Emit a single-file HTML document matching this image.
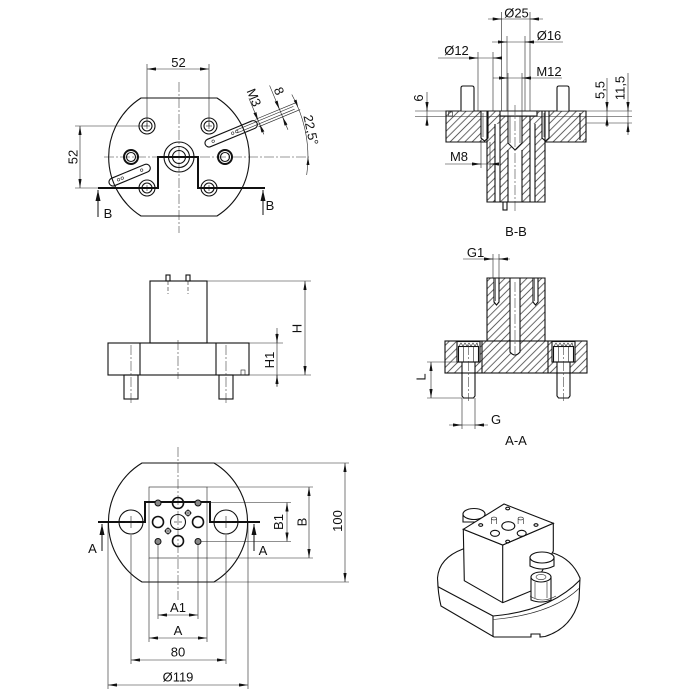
<!DOCTYPE html>
<html><head><meta charset="utf-8">
<style>
html,body{margin:0;padding:0;background:#fff}
svg{display:block}
text{font-family:"Liberation Sans","DejaVu Sans",sans-serif;font-size:13px;fill:#111}
.o{fill:none;stroke:#111;stroke-width:1.1}
.t{fill:none;stroke:#222;stroke-width:0.6}
.c{fill:none;stroke:#333;stroke-width:0.55;stroke-dasharray:10 2 2 2}
.k{fill:none;stroke:#111;stroke-width:2}
.w{fill:#fff;stroke:none}
.ow{fill:#fff;stroke:#111;stroke-width:1.1}
</style></head><body>
<svg width="700" height="700" viewBox="0 0 700 700" xmlns="http://www.w3.org/2000/svg">
<defs>
<marker id="ar" viewBox="0 0 9 3.2" refX="9" refY="1.6" markerWidth="9" markerHeight="3.2" orient="auto-start-reverse" markerUnits="userSpaceOnUse"><path d="M0,0 L9,1.6 L0,3.2 Z" fill="#111"/></marker>
<marker id="ab" viewBox="0 0 11 5" refX="11" refY="2.5" markerWidth="11" markerHeight="5" orient="auto" markerUnits="userSpaceOnUse"><path d="M0,0 L11,2.5 L0,5 Z" fill="#111"/></marker>
<pattern id="h" width="5.2" height="5.2" patternUnits="userSpaceOnUse" patternTransform="rotate(45)"><line x1="2.6" y1="-1" x2="2.6" y2="6.2" stroke="#333" stroke-width="0.75"/></pattern>
</defs>

<!-- ============ VIEW 1 : top plan ============ -->
<path class="o" d="M141,98 H217 A70,70 0 0 1 217,216 H141 A70,70 0 0 1 141,98 Z"/>
<line class="c" x1="179" y1="82" x2="179" y2="233"/>
<line class="c" x1="104" y1="157" x2="309" y2="157"/>
<line class="t" x1="147" y1="64" x2="147" y2="126"/>
<line class="t" x1="209" y1="64" x2="209" y2="126"/>
<line class="t" x1="75" y1="126" x2="147" y2="126"/>
<line class="t" x1="75" y1="188" x2="98" y2="188"/>
<line class="t" x1="147" y1="69" x2="209" y2="69" marker-start="url(#ar)" marker-end="url(#ar)"/>
<text x="178.5" y="67" text-anchor="middle">52</text>
<line class="t" x1="80" y1="126" x2="80" y2="188" marker-start="url(#ar)" marker-end="url(#ar)"/>
<text transform="translate(77.5,157) rotate(-90)" text-anchor="middle">52</text>
<g class="o">
<circle cx="147" cy="126" r="8"/><circle cx="147" cy="126" r="5"/>
<circle cx="209" cy="126" r="8"/><circle cx="209" cy="126" r="5"/>
<circle cx="147" cy="188" r="8"/><circle cx="147" cy="188" r="5"/>
<circle cx="209" cy="188" r="8"/><circle cx="209" cy="188" r="5"/>
<circle cx="179" cy="157" r="15"/><circle cx="179" cy="157" r="10.5"/><circle cx="179" cy="157" r="6.5"/>
<circle cx="131" cy="157" r="4.5"/><circle cx="225" cy="157" r="4.5"/>
</g>
<circle cx="131" cy="157" r="7" fill="none" stroke="#111" stroke-width="2"/>
<circle cx="225" cy="157" r="7" fill="none" stroke="#111" stroke-width="2"/>
<g class="t">
<line x1="144" y1="126" x2="150" y2="126"/><line x1="147" y1="123" x2="147" y2="129"/>
<line x1="206" y1="126" x2="212" y2="126"/><line x1="209" y1="123" x2="209" y2="129"/>
<line x1="144" y1="188" x2="150" y2="188"/><line x1="147" y1="185" x2="147" y2="191"/>
<line x1="206" y1="188" x2="212" y2="188"/><line x1="209" y1="185" x2="209" y2="191"/>
</g>
<path class="k" d="M98,188 H158 V157 H198 V188 H265"/>
<line x1="98" y1="217" x2="98" y2="190" stroke="#111" stroke-width="1" marker-end="url(#ab)"/>
<line x1="263" y1="215" x2="263" y2="190" stroke="#111" stroke-width="1" marker-end="url(#ab)"/>
<text x="108" y="218" text-anchor="middle" font-size="13.5">B</text>
<text x="270" y="210" text-anchor="middle" font-size="13.5">B</text>
<!-- slot lower-left -->
<g transform="translate(113,182) rotate(-22.5)">
<rect class="o" x="-4" y="-4" width="44" height="8" rx="4"/>
<circle class="t" cx="6" cy="0" r="1.3"/><circle class="t" cx="10" cy="0" r="1.3"/><circle class="t" cx="31" cy="0" r="1.3"/>
</g>
<!-- slot upper-right -->
<g transform="translate(209,143) rotate(-22.5)">
<rect class="o" x="-4" y="-4" width="56" height="8" rx="4"/>
<circle class="t" cx="4.5" cy="0" r="1.3"/><circle class="t" cx="25.6" cy="0" r="1.3"/><circle class="t" cx="30" cy="0" r="1.3"/>
<line class="t" x1="30" y1="-1.5" x2="92" y2="-1.5"/>
<line class="t" x1="30" y1="1.5" x2="92" y2="1.5"/>
<line class="t" x1="52" y1="-4" x2="97" y2="-4"/>
<line class="t" x1="52" y1="4" x2="97" y2="4"/>
<line class="t" x1="54" y1="-26" x2="54" y2="13"/>
<line class="t" x1="54" y1="-10" x2="54" y2="-1.5" marker-end="url(#ar)"/>
<line class="t" x1="54" y1="10" x2="54" y2="1.5" marker-end="url(#ar)"/>
<line class="t" x1="78" y1="-30" x2="78" y2="18"/>
<line class="t" x1="78" y1="-13" x2="78" y2="-4" marker-end="url(#ar)"/>
<line class="t" x1="78" y1="13" x2="78" y2="4" marker-end="url(#ar)"/>
</g>
<text transform="translate(254,97.5) rotate(67.5)" text-anchor="middle" dominant-baseline="central">M3</text>
<text transform="translate(279,91) rotate(67.5)" text-anchor="middle" dominant-baseline="central">8</text>
<text transform="translate(311,130) rotate(78)" text-anchor="middle" dominant-baseline="central">22,5°</text>
<path class="t" d="M306.7,175 A129,129 0 0 0 291.8,94.5"/>
<polygon points="308,157 306.5,165 309.5,165" fill="#111"/>
<polygon points="298.2,107.6 296.5,99.6 293.7,100.8" fill="#111"/>

<!-- ============ VIEW 2 : B-B ============ -->
<rect x="446" y="111" width="140" height="31" fill="url(#h)"/>
<rect x="487" y="142" width="58" height="60" fill="url(#h)"/>
<g class="w">
<rect x="500" y="111" width="37" height="5"/>
<rect x="508" y="116" width="14" height="27"/>
<path d="M508,143 L515,150 L522,143Z"/>
<rect x="508" y="150" width="14" height="52"/>
<rect x="495" y="124" width="5" height="78"/>
<rect x="530" y="124" width="5" height="78"/>
<rect x="481" y="111" width="7" height="27"/>
<path d="M481,138 L484.5,141 L488,138Z"/>
<rect x="542" y="111" width="7" height="27"/>
<path d="M542,138 L545.5,141 L549,138Z"/>
</g>
<path class="o" d="M446,111 H586 V142 H545 V202 H487 V142 H446 Z"/>
<line class="o" x1="487" y1="111" x2="487" y2="142"/>
<line class="o" x1="545" y1="111" x2="545" y2="142"/>
<path class="o" d="M500,111 V116 H537 V111"/>
<path class="o" d="M508,116 V143 L515,150 L522,143 V116"/>
<line class="t" x1="510" y1="116" x2="510" y2="143"/><line class="t" x1="520" y1="116" x2="520" y2="143"/>
<path class="o" d="M508,150 V202 M522,150 V202"/>
<path class="o" d="M495,124 V202 M500,116 V202 M530,116 V202 M535,124 V202"/>
<path class="o" d="M481,111 V138 L484.5,141 L488,138 V111"/>
<path class="o" d="M542,111 V138 L545.5,141 L549,138 V111"/>
<line class="t" x1="483" y1="113" x2="483" y2="137"/><line class="t" x1="544" y1="113" x2="544" y2="137"/>
<line class="o" x1="580" y1="113" x2="580" y2="140"/>
<rect class="t" x="448.5" y="112" width="4" height="4"/>
<path class="ow" d="M461,111 V88 Q461,86 463,86 H472 Q474,86 474,88 V111"/>
<path class="ow" d="M557,111 V88 Q557,86 559,86 H567 Q569,86 569,88 V111"/>
<rect class="ow" x="503" y="202" width="4" height="8"/>
<line class="c" x1="515" y1="105" x2="515" y2="212"/>
<!-- B-B dims -->
<g class="t">
<line x1="415" y1="111" x2="632" y2="111"/>
<line x1="415" y1="116.5" x2="632" y2="116.5"/>
<line x1="586" y1="123" x2="632" y2="123"/>
<line x1="501.7" y1="12" x2="501.7" y2="111"/><line x1="530" y1="12" x2="530" y2="111"/>
<line x1="488" y1="19" x2="543" y2="19"/>
<line x1="507" y1="36" x2="507" y2="111"/><line x1="525" y1="36" x2="525" y2="111"/>
<line x1="492" y1="42" x2="563" y2="42"/>
<line x1="478" y1="52" x2="478" y2="111"/><line x1="493" y1="52" x2="493" y2="111"/>
<line x1="438" y1="58" x2="502" y2="58"/>
<line x1="508" y1="73" x2="508" y2="116"/><line x1="522" y1="73" x2="522" y2="116"/>
<line x1="493" y1="78" x2="562" y2="78"/>
<line x1="427" y1="92" x2="427" y2="126"/>
<line x1="607" y1="78" x2="607" y2="127"/>
<line x1="628" y1="73" x2="628" y2="135"/>
<line x1="481" y1="140" x2="481" y2="168"/><line x1="490" y1="142" x2="490" y2="168"/>
<line x1="445" y1="164" x2="498" y2="164"/>
</g>
<g class="t">
<line x1="493" y1="19" x2="501.7" y2="19" marker-end="url(#ar)"/><line x1="539" y1="19" x2="530" y2="19" marker-end="url(#ar)"/>
<line x1="498" y1="42" x2="507" y2="42" marker-end="url(#ar)"/><line x1="534" y1="42" x2="525" y2="42" marker-end="url(#ar)"/>
<line x1="469" y1="58" x2="478" y2="58" marker-end="url(#ar)"/><line x1="502" y1="58" x2="493" y2="58" marker-end="url(#ar)"/>
<line x1="499" y1="78" x2="508" y2="78" marker-end="url(#ar)"/><line x1="531" y1="78" x2="522" y2="78" marker-end="url(#ar)"/>
<line x1="427" y1="102" x2="427" y2="111" marker-end="url(#ar)"/><line x1="427" y1="126" x2="427" y2="116.5" marker-end="url(#ar)"/>
<line x1="607" y1="102" x2="607" y2="111" marker-end="url(#ar)"/><line x1="607" y1="126" x2="607" y2="116.5" marker-end="url(#ar)"/>
<line x1="628" y1="102" x2="628" y2="111" marker-end="url(#ar)"/><line x1="628" y1="133" x2="628" y2="123" marker-end="url(#ar)"/>
<line x1="472" y1="164" x2="481" y2="164" marker-end="url(#ar)"/><line x1="498" y1="164" x2="490" y2="164" marker-end="url(#ar)"/>
</g>
<text x="516.5" y="17.5" text-anchor="middle">Ø25</text>
<text x="549" y="40" text-anchor="middle">Ø16</text>
<text x="456.5" y="55" text-anchor="middle">Ø12</text>
<text x="549" y="76" text-anchor="middle">M12</text>
<text x="459" y="161" text-anchor="middle">M8</text>
<text transform="translate(423,98) rotate(-90)" text-anchor="middle">6</text>
<text transform="translate(604.5,90) rotate(-90)" text-anchor="middle">5,5</text>
<text transform="translate(624.5,88) rotate(-90)" text-anchor="middle">11,5</text>
<text x="516" y="236" text-anchor="middle" font-size="11.5">B-B</text>

<!-- ============ VIEW 3 : front elevation ============ -->
<rect class="o" x="150" y="281" width="57" height="62"/>
<rect class="o" x="108" y="343" width="141" height="32"/>
<line class="o" x1="140" y1="343" x2="140" y2="375"/>
<line class="o" x1="216" y1="343" x2="216" y2="375"/>
<rect class="o" x="124" y="375" width="14" height="24"/>
<rect class="o" x="219" y="375" width="14" height="24"/>
<line class="c" x1="131" y1="345" x2="131" y2="404"/>
<line class="c" x1="226" y1="345" x2="226" y2="404"/>
<line class="c" x1="178" y1="340" x2="178" y2="379"/>
<rect class="o" x="166" y="275" width="4" height="6"/>
<rect class="o" x="186" y="275" width="4" height="6"/>
<line class="t" x1="168" y1="281" x2="168" y2="294" stroke-dasharray="4 2"/>
<line class="t" x1="188" y1="281" x2="188" y2="294" stroke-dasharray="4 2"/>
<rect class="t" x="241" y="370" width="4" height="5"/>
<g class="t">
<line x1="207" y1="281" x2="311" y2="281"/>
<line x1="249" y1="375" x2="311" y2="375"/>
<line x1="249" y1="343" x2="283" y2="343"/>
<line x1="305" y1="281" x2="305" y2="375" marker-start="url(#ar)" marker-end="url(#ar)"/>
<line x1="277" y1="328" x2="277" y2="387"/>
<line x1="277" y1="333" x2="277" y2="343" marker-end="url(#ar)"/>
<line x1="277" y1="386" x2="277" y2="375" marker-end="url(#ar)"/>
</g>
<text transform="translate(301.5,328.5) rotate(-90)" text-anchor="middle">H</text>
<text transform="translate(274,360) rotate(-90)" text-anchor="middle">H1</text>

<!-- ============ VIEW 4 : A-A ============ -->
<rect x="487" y="278" width="58" height="63" fill="url(#h)"/>
<rect x="445" y="341" width="142" height="32" fill="url(#h)"/>
<g class="w">
<path d="M510,278 V352 Q515,358 520,352 V278Z"/>
<path d="M494,278 V302 L496.5,305 L499,302 V278Z"/>
<path d="M533,278 V302 L535.5,305 L538,302 V278Z"/>
<rect x="457" y="341.5" width="23" height="20.5"/>
<rect x="552" y="341.5" width="23" height="20.5"/>
<rect x="462" y="362" width="13" height="11"/>
<rect x="557" y="362" width="13" height="11"/>
</g>
<path class="o" d="M487,341 V278 H545 V341"/>
<rect class="o" x="445" y="341" width="142" height="32"/>
<line class="o" x1="482" y1="341" x2="482" y2="373"/>
<line class="o" x1="548" y1="341" x2="548" y2="373"/>
<path class="o" d="M510,278 V352 Q515,358 520,352 V278"/>
<line class="c" x1="515" y1="282" x2="515" y2="354"/>
<path class="o" d="M494,278 V302 L496.5,305 L499,302 V278"/>
<path class="o" d="M533,278 V302 L535.5,305 L538,302 V278"/>
<line class="t" x1="495.5" y1="278" x2="495.5" y2="301"/><line class="t" x1="534.5" y1="278" x2="534.5" y2="301"/>
<rect class="o" x="457" y="341.5" width="23" height="20.5"/>
<rect class="o" x="552" y="341.5" width="23" height="20.5"/>
<rect class="o" x="458.5" y="346.5" width="20" height="15.5"/>
<rect class="o" x="553.5" y="346.5" width="20" height="15.5"/>
<path class="t" d="M459,346 L461,343 L463,346 L465,343 L467,346 L469,343 L471,346 L473,343 L475,346 L477,343 L478,346"/>
<path class="t" d="M554,346 L556,343 L558,346 L560,343 L562,346 L564,343 L566,346 L568,343 L570,346 L572,343 L573,346"/>
<line class="t" x1="463.5" y1="346.5" x2="463.5" y2="362"/><line class="t" x1="473.5" y1="346.5" x2="473.5" y2="362"/>
<line class="t" x1="558.5" y1="346.5" x2="558.5" y2="362"/><line class="t" x1="568.5" y1="346.5" x2="568.5" y2="362"/>
<path class="o" d="M462,362 V396 L463.5,398 H473.5 L475,396 V362"/>
<path class="o" d="M557,362 V396 L558.5,398 H568.5 L570,396 V362"/>
<line class="c" x1="468.5" y1="345" x2="468.5" y2="401"/>
<line class="c" x1="563.5" y1="345" x2="563.5" y2="401"/>
<g class="t">
<line x1="493" y1="254" x2="493" y2="278"/><line x1="499" y1="254" x2="499" y2="278"/>
<line x1="463" y1="259" x2="510" y2="259"/>
<line x1="484" y1="259" x2="493" y2="259" marker-end="url(#ar)"/><line x1="508" y1="259" x2="499" y2="259" marker-end="url(#ar)"/>
<line x1="427" y1="362" x2="457" y2="362"/>
<line x1="427" y1="398" x2="462" y2="398"/>
<line x1="431" y1="362" x2="431" y2="398" marker-start="url(#ar)" marker-end="url(#ar)"/>
<line x1="462" y1="398" x2="462" y2="429"/><line x1="475" y1="398" x2="475" y2="429"/>
<line x1="449" y1="425" x2="488" y2="425"/>
<line x1="453" y1="425" x2="462" y2="425" marker-end="url(#ar)"/><line x1="484" y1="425" x2="475" y2="425" marker-end="url(#ar)"/>
</g>
<text x="475.5" y="257" text-anchor="middle">G1</text>
<text transform="translate(425.5,377) rotate(-90)" text-anchor="middle">L</text>
<text x="496" y="424" text-anchor="middle">G</text>
<text x="516" y="445" text-anchor="middle" font-size="11.5">A-A</text>

<!-- ============ VIEW 5 : bottom plan ============ -->
<path class="o" d="M142,463 H214 A69.5,69.5 0 0 1 214,582 H142 A69.5,69.5 0 0 1 142,463 Z"/>
<rect class="t" x="149" y="487" width="58" height="71"/>
<line class="c" x1="178" y1="447" x2="178" y2="600"/>
<path class="k" d="M98,522 H145 V502 H210 V522 H260"/>
<g class="o">
<circle cx="131" cy="522" r="12"/><circle cx="226" cy="522" r="12"/>
<circle cx="178" cy="522" r="7.5"/>
<circle cx="188" cy="513" r="2.5"/><circle cx="168" cy="531" r="2.5"/>
</g>
<g fill="none" stroke="#111" stroke-width="1.6">
<circle cx="178" cy="503" r="5.5"/><circle cx="178" cy="541" r="5.5"/>
<circle cx="158" cy="522" r="5.5"/><circle cx="198" cy="522" r="5.5"/>
</g>
<g fill="#888" stroke="#111" stroke-width="1">
<circle cx="158" cy="503" r="3"/><circle cx="198" cy="503" r="3"/>
<circle cx="158" cy="541.5" r="3"/><circle cx="198" cy="541.5" r="3"/>
</g>
<g class="t">
<line x1="125" y1="522" x2="137" y2="522"/><line x1="131" y1="516" x2="131" y2="528"/>
<line x1="220" y1="522" x2="232" y2="522"/><line x1="226" y1="516" x2="226" y2="528"/>
<line x1="174" y1="522" x2="182" y2="522"/>
<line x1="184" y1="513" x2="192" y2="513"/><line x1="188" y1="509" x2="188" y2="517"/>
<line x1="164" y1="531" x2="172" y2="531"/><line x1="168" y1="527" x2="168" y2="535"/>
</g>
<line x1="102" y1="551" x2="102" y2="524" stroke="#111" stroke-width="1" marker-end="url(#ab)"/>
<line x1="254" y1="551" x2="254" y2="524" stroke="#111" stroke-width="1" marker-end="url(#ab)"/>
<text x="92.5" y="553" text-anchor="middle" font-size="13.5">A</text>
<text x="263" y="555" text-anchor="middle" font-size="13.5">A</text>
<g class="t">
<line x1="214" y1="463" x2="349" y2="463"/>
<line x1="207" y1="487" x2="313" y2="487"/>
<line x1="201" y1="502.5" x2="291" y2="502.5"/>
<line x1="201" y1="541.5" x2="291" y2="541.5"/>
<line x1="207" y1="558" x2="313" y2="558"/>
<line x1="214" y1="582" x2="349" y2="582"/>
<line x1="287" y1="502.5" x2="287" y2="541.5" marker-start="url(#ar)" marker-end="url(#ar)"/>
<line x1="309" y1="487" x2="309" y2="558" marker-start="url(#ar)" marker-end="url(#ar)"/>
<line x1="345" y1="463" x2="345" y2="582" marker-start="url(#ar)" marker-end="url(#ar)"/>
<line x1="158" y1="545" x2="158" y2="619"/><line x1="198" y1="545" x2="198" y2="619"/>
<line x1="149" y1="558" x2="149" y2="642"/><line x1="207" y1="558" x2="207" y2="642"/>
<line x1="131" y1="535" x2="131" y2="664"/><line x1="226" y1="535" x2="226" y2="664"/>
<line x1="108" y1="523" x2="108" y2="689"/><line x1="248" y1="523" x2="248" y2="689"/>
<line x1="158" y1="615" x2="198" y2="615" marker-start="url(#ar)" marker-end="url(#ar)"/>
<line x1="149" y1="638" x2="207" y2="638" marker-start="url(#ar)" marker-end="url(#ar)"/>
<line x1="131" y1="660" x2="226" y2="660" marker-start="url(#ar)" marker-end="url(#ar)"/>
<line x1="108" y1="685" x2="248" y2="685" marker-start="url(#ar)" marker-end="url(#ar)"/>
</g>
<text transform="translate(283,522) rotate(-90)" text-anchor="middle">B1</text>
<text transform="translate(306.5,522) rotate(-90)" text-anchor="middle">B</text>
<text transform="translate(342,521) rotate(-90)" text-anchor="middle">100</text>
<text x="178" y="612" text-anchor="middle">A1</text>
<text x="178" y="635" text-anchor="middle">A</text>
<text x="178" y="656.5" text-anchor="middle">80</text>
<text x="178" y="681.5" text-anchor="middle">Ø119</text>

<!-- ============ VIEW 6 : isometric ============ -->
<path class="ow" d="M437.5,578 Q439,558 463,549 L504,540 L553,553 Q572,559 580,578 L579,600 Q572,628 545,636.5 L540,637 L540,634 L531,634 L531,637 L494,637 L441,606 Q438,594 437.5,578 Z"/>
<path class="o" d="M438.5,587 L493,616 L493,637"/>
<path class="o" d="M493,616 Q550,611 580,580"/>
<path class="t" d="M493,619.5 Q552,614.5 579.5,588"/>
<path class="t" d="M437.5,578 Q438,584 438.5,587"/>
<path class="ow" d="M463,514 V522 L485,522 V514 Z"/>
<ellipse class="ow" cx="474" cy="514" rx="11" ry="5.5"/>
<path class="ow" d="M463.3,529.3 L464.3,580.7 L502.7,602.7 L531,591 L553.3,551 L553.3,523.3 L502.7,545 Z"/>
<path class="ow" d="M463.3,529.3 L504,504 L553.3,523.3 L502.7,545 Z"/>
<line class="o" x1="502.7" y1="545" x2="502.7" y2="602.7"/>
<g class="o">
<ellipse cx="507.7" cy="508.5" rx="2" ry="1.3"/>
<ellipse cx="480.7" cy="525" rx="2" ry="1.3"/>
<ellipse cx="536" cy="525" rx="2" ry="1.3"/>
<ellipse cx="507.7" cy="541.5" rx="2" ry="1.3"/>
<ellipse cx="508.3" cy="526" rx="6.5" ry="4.3"/>
<ellipse cx="495" cy="533.3" rx="4.5" ry="3"/>
<ellipse cx="521.7" cy="533.3" rx="4.5" ry="3"/>
</g>
<g class="t">
<ellipse cx="494" cy="518.5" rx="2.6" ry="1.4"/><path d="M491.4,518.5 V524 M496.6,518.5 V524"/>
<ellipse cx="520.7" cy="518.5" rx="2.6" ry="1.4"/><path d="M518.1,518.5 V524 M523.3,518.5 V524"/>
</g>
<path class="ow" d="M530,557.5 V566 Q542,572 554,566 V557.5 Z"/>
<ellipse class="ow" cx="542" cy="557.5" rx="12" ry="5.5"/>
<path class="ow" d="M531,600 V577 H551 V600 Q541,604 531,600 Z"/>
<ellipse class="ow" cx="541" cy="577" rx="10" ry="5"/>
<ellipse class="t" cx="541" cy="577" rx="5" ry="2.6"/>
<path class="t" d="M530,596 Q542,604 556,596"/>
<line class="t" x1="535" y1="582" x2="535" y2="598"/>
<line class="t" x1="547" y1="582" x2="547" y2="598"/>
</svg>
</body></html>
